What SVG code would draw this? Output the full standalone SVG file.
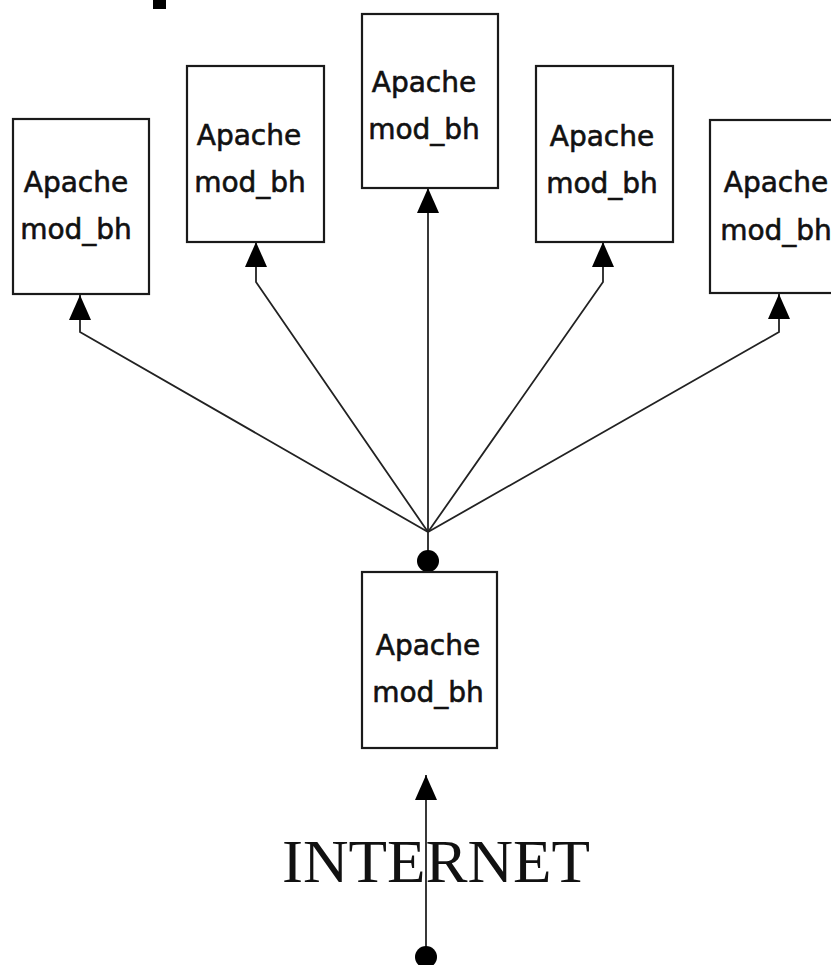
<svg xmlns="http://www.w3.org/2000/svg" width="831" height="965" viewBox="0 0 831 965">
<style>
.box{fill:#fff;stroke:#1a1a1a;stroke-width:2.2}
.lbl{font-family:"DejaVu Sans",Verdana,sans-serif;font-size:28px;fill:#111;stroke:#111;stroke-width:0.6;text-anchor:middle}
.conn{fill:none;stroke:#222;stroke-width:1.8}
.net{font-family:"Liberation Serif","Times New Roman",serif;font-size:62px;fill:#111;text-anchor:middle}
</style>
<defs>
<marker id="arr" markerUnits="userSpaceOnUse" viewBox="0 0 25 22" markerWidth="25" markerHeight="22" refX="25" refY="11" orient="auto">
<path d="M0,0 L25,11 L0,22 Z" fill="#000"/>
</marker>
</defs>
<rect x="153" y="0" width="13" height="9" fill="#000"/>
<g id="connectors">
<path class="conn" d="M428,532 L80,332 L80,295" marker-end="url(#arr)"/>
<path class="conn" d="M428,532 L256,282 L256,242" marker-end="url(#arr)"/>
<path class="conn" d="M428,532 L428,188" marker-end="url(#arr)"/>
<path class="conn" d="M428,532 L603,282 L603,242" marker-end="url(#arr)"/>
<path class="conn" d="M428,532 L779,332 L779,294" marker-end="url(#arr)"/>
<path class="conn" d="M428,532 L428,561"/>
<circle cx="428" cy="561" r="11" fill="#000"/>
<path class="conn" d="M426,957 L426,775" marker-end="url(#arr)"/>
<circle cx="426" cy="957" r="11" fill="#000"/>
</g>
<g id="node1">
<rect class="box" x="13" y="119" width="136" height="175"/>
<text class="lbl" x="76" y="192">Apache</text>
<text class="lbl" x="76" y="239">mod_bh</text>
</g>
<g id="node2">
<rect class="box" x="187" y="66" width="137" height="176"/>
<text class="lbl" x="249" y="145">Apache</text>
<text class="lbl" x="250" y="192">mod_bh</text>
</g>
<g id="node3">
<rect class="box" x="362" y="14" width="136" height="174"/>
<text class="lbl" x="424" y="92">Apache</text>
<text class="lbl" x="424" y="139">mod_bh</text>
</g>
<g id="node4">
<rect class="box" x="536" y="66" width="137" height="176"/>
<text class="lbl" x="602" y="146">Apache</text>
<text class="lbl" x="602" y="193">mod_bh</text>
</g>
<g id="node5">
<rect class="box" x="710" y="120" width="140" height="173"/>
<text class="lbl" x="776" y="192">Apache</text>
<text class="lbl" x="776" y="240">mod_bh</text>
</g>
<g id="node6">
<rect class="box" x="362" y="572" width="135" height="176"/>
<text class="lbl" x="428" y="655">Apache</text>
<text class="lbl" x="428" y="702">mod_bh</text>
</g>
<g id="internet">
<text class="net" x="436" y="882" textLength="308" lengthAdjust="spacingAndGlyphs">INTERNET</text>
</g>
</svg>
